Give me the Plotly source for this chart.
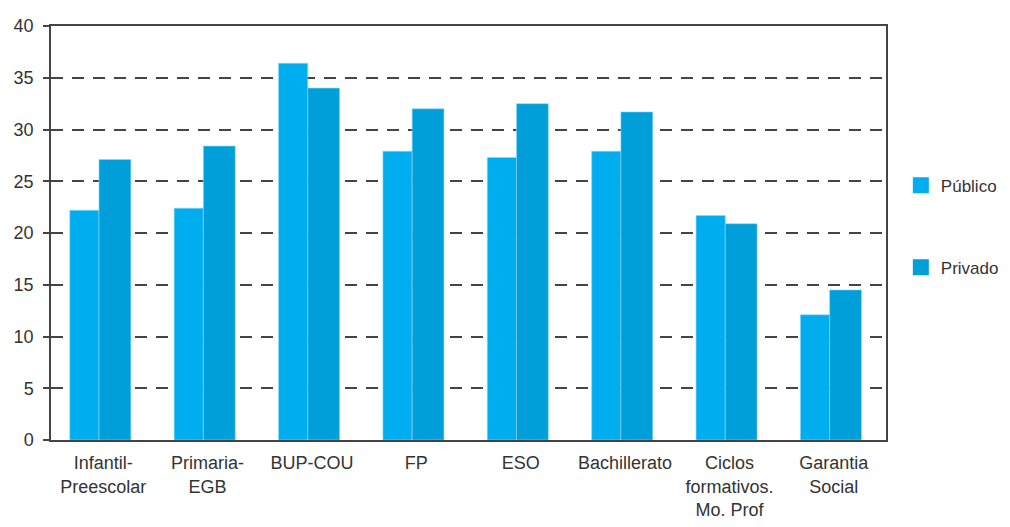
import plotly.graph_objects as go

categories = ["Infantil-<br>Preescolar", "Primaria-<br>EGB", "BUP-COU", "FP", "ESO",
              "Bachillerato", "Ciclos<br>formativos.<br>Mo. Prof", "Garantia<br>Social"]
publico = [22.2, 22.4, 36.4, 27.9, 27.3, 27.9, 21.7, 12.1]
privado = [27.1, 28.4, 34.0, 32.0, 32.5, 31.7, 20.9, 14.5]
series_names = ["Público", "Privado"]
series_colors = ["#00AEEF", "#009FD9"]
y_ticks = [0, 5, 10, 15, 20, 25, 30, 35, 40]

FONT = "Liberation Sans, Arial, sans-serif"
TXT = "#333333"
FS = 18

fig = go.Figure()
fig.add_trace(go.Bar(x=categories, y=publico, name=series_names[0], showlegend=False,
                     marker=dict(color=series_colors[0], line=dict(color="#8fd8f5", width=0.6)),
                     width=0.28, offset=-0.32))
fig.add_trace(go.Bar(x=categories, y=privado, name=series_names[1], showlegend=False,
                     marker=dict(color=series_colors[1], line=dict(color="#8fd8f5", width=0.6)),
                     width=0.305, offset=-0.04))
# legend entries with larger square swatches
for i, (nm, col) in enumerate(zip(series_names, series_colors)):
    fig.add_trace(go.Scatter(x=[None], y=[None], mode="markers", name=nm,
                             legendgroup=f"g{i}",
                             marker=dict(symbol="square", size=18, color=col)))

fig.update_layout(
    width=1010, height=527,
    margin=dict(l=43, r=132, t=18, b=95),
    plot_bgcolor="white", paper_bgcolor="white",
    font=dict(family=FONT, size=FS, color=TXT),
    barmode="overlay",
    showlegend=True,
    legend=dict(xref="container", yref="container", x=0.884, xanchor="left",
                y=0.697, yanchor="top",
                traceorder="grouped", tracegroupgap=57, itemsizing="trace",
                font=dict(family=FONT, size=17, color=TXT),
                itemwidth=30, bgcolor="rgba(0,0,0,0)"),
)
fig.update_xaxes(
    showline=True, linecolor="#444444", linewidth=1.5, mirror=True,
    ticks="", showgrid=False, tickangle=0, automargin=False, ticklabelstandoff=6,
    tickfont=dict(family=FONT, size=FS, color=TXT),
)
fig.update_yaxes(
    range=[0, 40], tickvals=y_ticks, ticktext=[str(v) for v in y_ticks],
    showline=True, linecolor="#444444", linewidth=1.5, mirror=True,
    ticks="outside", ticklen=6, tickcolor="#444444", tickwidth=1.5,
    showgrid=True, gridcolor="#444444", gridwidth=1.5, griddash="12px,9px",
    zeroline=False, automargin=False, ticklabelstandoff=6,
    tickfont=dict(family=FONT, size=FS, color=TXT),
)

fig.write_html("out.html")
